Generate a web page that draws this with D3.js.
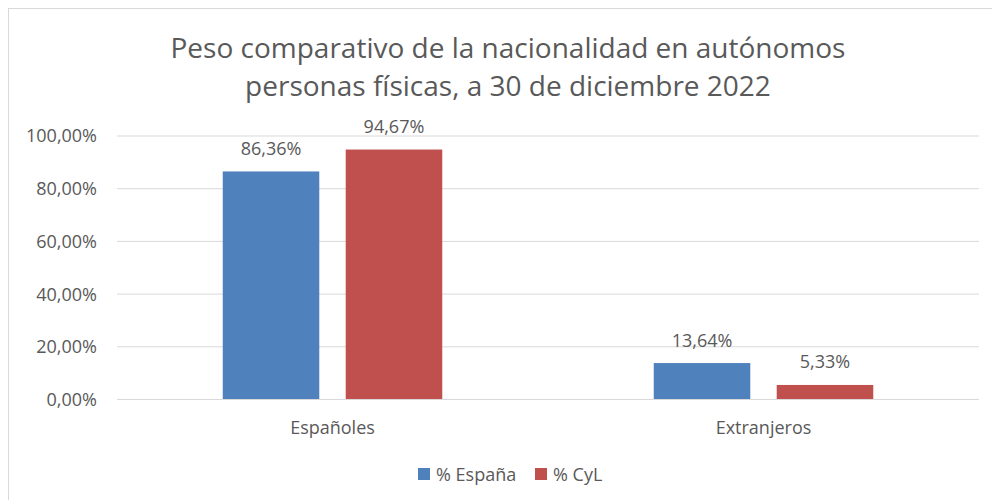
<!DOCTYPE html>
<html>
<head>
<meta charset="utf-8">
<script src="https://cdn.jsdelivr.net/npm/d3@7"></script>
<style>
  body { margin: 0; background: #fff; }
  text { font-family: "Open Sans", sans-serif; fill: #595959; }
</style>
</head>
<body>
<div id="chart"></div>
<script>
let categories = ["Españoles", "Extranjeros"];
let series = ["% España", "% CyL"];
let espana = [0.8636, 0.1364];
let cyl = [0.9467, 0.0533];
let yTicks = [0, 0.2, 0.4, 0.6, 0.8, 1.0];
let colors = ["#4F81BD", "#C0504D"];
let titleLines = ["Peso comparativo de la nacionalidad en autónomos", "personas físicas, a 30 de diciembre 2022"];

let width = 992;
let height = 500;

let locale = d3.formatLocale({decimal: ",", thousands: ".", grouping: [3], currency: ["", "€"]});
let fmt = locale.format(".2%");

let svg = d3.select("#chart")
  .append("svg")
  .attr("width", width)
  .attr("height", height);

// chart frame
svg.append("rect")
  .attr("x", 8.5).attr("y", 8.5)
  .attr("width", 1000).attr("height", 1000)
  .attr("fill", "none")
  .attr("stroke", "#D9D9D9");

////////////////////////////////
//   Title
////////////////////////////////
svg.append("g")
  .selectAll("text")
  .data(titleLines)
  .enter()
  .append("text")
    .attr("x", 508)
    .attr("y", function(d, i) { return 58 + i * 38; })
    .attr("text-anchor", "middle")
    .attr("font-size", "28px")
    .text(function(d) { return d; });

////////////////////////////////
//   Scales and axes
////////////////////////////////
let x0 = d3.scaleBand().domain(categories).range([117, 979]);
let x1 = d3.scaleBand().domain(series).range([0, x0.bandwidth()]).paddingInner(0.215).paddingOuter(0.86);
let y = d3.scaleLinear().domain([0, 1]).range([399, 135.5]);

let yAxis = svg.append("g")
  .attr("transform", "translate(117,0)")
  .call(d3.axisLeft(y).tickValues(yTicks).tickSize(-(979 - 117)).tickPadding(20).tickFormat(fmt));
yAxis.select(".domain").remove();
yAxis.selectAll(".tick line").attr("stroke", "#D9D9D9");
yAxis.selectAll(".tick text")
  .attr("font-size", "18px")
  .attr("fill", "#595959")
  .attr("font-family", "Open Sans, sans-serif")
  .attr("dy", "0.36em");

svg.append("g")
  .selectAll("text")
  .data(categories)
  .enter()
  .append("text")
    .attr("x", function(d) { return x0(d) + x0.bandwidth() / 2; })
    .attr("y", 434)
    .attr("text-anchor", "middle")
    .attr("font-size", "18px")
    .text(function(d) { return d; });

////////////////////////////////
//   Bars
////////////////////////////////
let rows = categories.map(function(c, i) {
  return [{cat: c, s: series[0], v: espana[i], k: 0}, {cat: c, s: series[1], v: cyl[i], k: 1}];
});

let groups = svg.append("g")
  .selectAll("g")
  .data(rows)
  .enter()
  .append("g")
    .attr("transform", function(d) { return "translate(" + x0(d[0].cat) + ",0)"; });

groups.selectAll("rect")
  .data(function(d) { return d; })
  .enter()
  .append("rect")
    .attr("x", function(d) { return x1(d.s); })
    .attr("y", function(d) { return y(d.v); })
    .attr("width", x1.bandwidth())
    .attr("height", function(d) { return y(0) - y(d.v); })
    .attr("fill", function(d) { return colors[d.k]; });

groups.selectAll("text")
  .data(function(d) { return d; })
  .enter()
  .append("text")
    .attr("x", function(d) { return x1(d.s) + x1.bandwidth() / 2; })
    .attr("y", function(d) { return y(d.v) - 16.5; })
    .attr("text-anchor", "middle")
    .attr("font-size", "18px")
    .attr("fill", "#404040")
    .text(function(d) { return fmt(d.v); });

////////////////////////////////
//   Legend
////////////////////////////////
let legendX = [418, 535];
let legend = svg.append("g")
  .selectAll("g")
  .data(series)
  .enter()
  .append("g")
    .attr("transform", function(d, i) { return "translate(" + legendX[i] + ",468)"; });

legend.append("rect")
  .attr("width", 12).attr("height", 12)
  .attr("fill", function(d, i) { return colors[i]; });

legend.append("text")
  .attr("x", 18)
  .attr("y", 12.5)
  .attr("font-size", "18px")
  .text(function(d) { return d; });
</script>
</body>
</html>
